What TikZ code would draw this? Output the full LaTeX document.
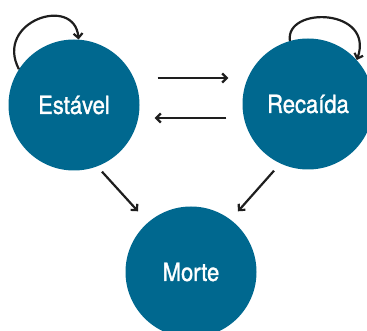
\documentclass[tikz,border=0pt]{standalone}
\usepackage{fontspec}
\newfontfamily\lab[FakeStretch=0.88,FakeBold=1.3]{TeX Gyre Heros}
\usetikzlibrary{arrows.meta,calc}
\definecolor{teal}{RGB}{0,104,143}
\begin{document}
\begin{tikzpicture}[x=1pt,y=-1pt,
  state/.style={circle,fill=teal,text=white,inner sep=0pt,minimum size=131pt,font=\lab\fontsize{25}{28}\selectfont},
  arr/.style={line width=2.2pt,draw={rgb,255:red,30;green,30;blue,30},-{Straight Barb[length=4.5pt,width=9pt,line width=2.2pt]}}]
\useasboundingbox (0,0) rectangle (367,331);
\node[state] (est) at (74,105) {Estável};
\node[state] (rec) at (308,104) {Recaída};
\node[state] (mor) at (191,272) {Morte};
\draw[arr] (est.147) .. controls +(-25,-48) and +(-4,-45) .. (est.86);
\draw[arr] (rec.106) .. controls +(-5,-35) and +(18,-52) .. (rec.42);
\draw[arr] ($(est.east)+(18,-27)$) -- ($(rec.west)+(-14,-26)$);
\draw[arr] ($(rec.west)+(-16,14)$) -- ($(est.east)+(15,13)$);
\draw[arr] ($(est.south)+(28,1)$) -- ($(mor.north)+(-53,5)$);
\draw[arr] ($(rec.south)+(-34,1)$) -- ($(mor.north)+(47,5)$);
\end{tikzpicture}
\end{document}
